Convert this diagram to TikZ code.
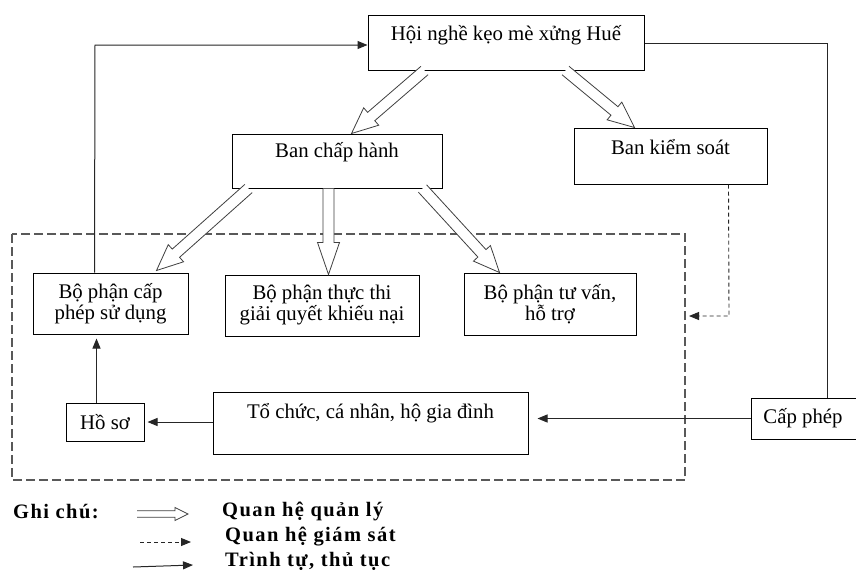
\documentclass[tikz,border=0pt]{standalone}
\usepackage{fontspec}
\setmainfont{Liberation Serif}
\usetikzlibrary{calc,arrows.meta}
\newcommand\hollowarrow[5]{%
  \coordinate (HAs) at (#1); \coordinate (HAt) at (#2);
  \coordinate (HAb) at ($(HAt)!#5!(HAs)$);
  \draw[hollowline] ($(HAs)!#3!90:(HAt)$) -- ($(HAb)!#3!90:(HAt)$) -- ($(HAb)!#4!90:(HAt)$) -- (HAt) -- ($(HAb)!#4!-90:(HAt)$) -- ($(HAb)!#3!-90:(HAt)$) -- ($(HAs)!#3!-90:(HAt)$);
}
\tikzset{
  box/.style={draw=black, line width=1pt, inner sep=0pt, rectangle},
  txt/.style={font=\fontsize{20.8}{21}\selectfont, align=center, inner sep=0pt},
  hollowline/.style={draw=black!75, line width=0.8pt, line join=miter, fill=white},
  conn/.style={draw=black!85, line width=1pt},
  arr/.style={conn, -{Triangle[length=10pt,width=8pt]}},
  dasharr/.style={draw=black!85, line width=0.9pt, dash pattern=on 4pt off 3pt, -{Triangle[length=10pt,width=8pt]}},
  dashrect/.style={draw=black!65, line width=1.3pt, dash pattern=on 9pt off 4pt},
  legtxt/.style={font=\fontsize{20.5}{21}\selectfont\bfseries\addfontfeatures{LetterSpace=7}, inner sep=0pt, anchor=west},
}
\begin{document}
\begin{tikzpicture}[x=1pt,y=-1pt]
\clip (0,0) rectangle (856,571);
\fill[white] (0,0) rectangle (856,571);

% dashed frame
\draw[dashrect] (12,234) rectangle (685,480);

% boxes
\node[box, minimum width=276pt, minimum height=55pt, label={[txt,yshift=7.5pt]center:Hội nghề kẹo mè xửng Huế}] (hoi) at (506,42.5) {};
\node[box, minimum width=210pt, minimum height=54pt, label={[txt,yshift=9pt]center:Ban chấp hành}] (bch) at (337,161) {};
\node[box, minimum width=193pt, minimum height=56pt, label={[txt,yshift=9pt]center:Ban kiểm soát}] (bks) at (670.5,156) {};
\node[box, minimum width=155pt, minimum height=61pt, txt] (bpcp) at (110.5,303.5) {Bộ phận cấp\\phép sử dụng};
\node[box, minimum width=194pt, minimum height=61pt, txt] (bptt) at (322,305.5) {Bộ phận thực thi\\giải quyết khiếu nại};
\node[box, minimum width=172pt, minimum height=62pt, txt] (bptv) at (550,304) {Bộ phận tư vấn,\\hỗ trợ};
\node[box, minimum width=78pt, minimum height=38pt, txt] (hoso) at (105,422) {Hồ sơ};
\node[box, minimum width=315pt, minimum height=62pt, label={[txt,yshift=10pt]center:Tổ chức, cá nhân, hộ gia đình}] (tochuc) at (370.5,423) {};
\node[box, minimum width=120pt, minimum height=41pt, label={[txt,xshift=-8pt]center:Cấp phép}] (capphep) at (811,418.5) {};

% hollow (management) arrows
\hollowarrow{$(hoi.south west)+(57,0)$}{$(bch.north west)+(120,0)$}{5.5pt}{11.5pt}{26pt}
\hollowarrow{$(hoi.south west)+(198,0)$}{$(bks.north west)+(61,0)$}{5.5pt}{11.5pt}{26pt}
\hollowarrow{$(bch.south west)+(17,0)$}{$(bpcp.north east)+(-32,-2)$}{5.5pt}{11.5pt}{26pt}
\hollowarrow{$(bch.south west)+(97,0)$}{$(bptt.north west)+(104,0)$}{5.5pt}{11pt}{32pt}
\hollowarrow{$(bch.south west)+(191,0)$}{$(bptv.north west)+(36,0)$}{5.5pt}{11.5pt}{26pt}

% procedure lines
\draw[arr] ($(bpcp.north west)+(62,0)$) -- (95,45) -- (hoi.west |- 0,45);
\draw[conn] (hoi.east |- 0,43) -- (827,43) -- (capphep.north -| 827,0);
\draw[arr, shorten >=9pt] (capphep.west) -- (tochuc.east |- capphep.west);
\draw[arr, shorten >=3pt] (tochuc.west |- hoso.east) -- (hoso.east);
\draw[arr, shorten >=4pt] ($(hoso.north west)+(31,0)$) -- ($(bpcp.south west)+(64,0)$);

% supervision
\coordinate (supend) at (689,316);
\draw[dasharr] ($(bks.south west)+(155,0)$) -- (729,316) -- (supend);

% legend
\node[legtxt] (ghichu) at (13,512) {Ghi chú:};
\node[legtxt] (lg1) at (222,511) {Quan hệ quản lý};
\node[legtxt] (lg2) at (225,537) {Quan hệ giám sát};
\node[legtxt] (lg3) at (225,561) {Trình tự, thủ tục};
\coordinate (l1a) at (137,514); \coordinate (l1b) at (188,514);
\hollowarrow{l1a}{l1b}{3.2pt}{6.5pt}{13pt}
\coordinate (l2a) at (140,542); \coordinate (l2b) at (191,542);
\draw[dasharr] (l2a) -- (l2b);
\coordinate (l3a) at (133,567); \coordinate (l3b) at (193,565);
\draw[arr] (l3a) -- (l3b);
\end{tikzpicture}
\end{document}
